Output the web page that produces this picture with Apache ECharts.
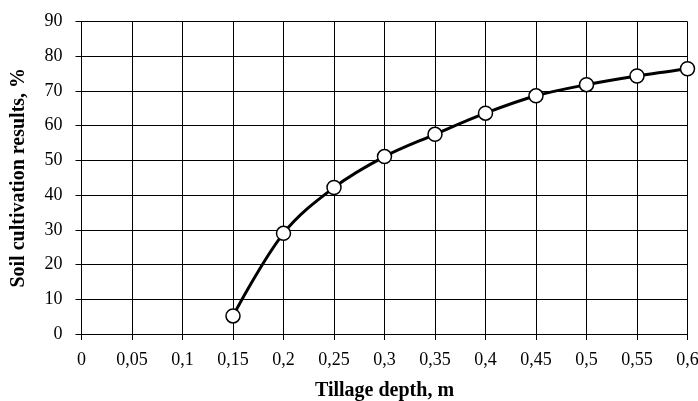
<!DOCTYPE html>
<html><head><meta charset="utf-8">
<script src="https://cdn.jsdelivr.net/npm/echarts@6/dist/echarts.min.js"></script>
<style>html,body{margin:0;padding:0;background:#fff}#c{width:698px;height:401px}</style>
</head><body><div id="c"></div>
<script>
const depths = [0.15, 0.2, 0.25, 0.3, 0.35, 0.4, 0.45, 0.5, 0.55, 0.6];
const results = [5.2, 29.0, 42.2, 51.1, 57.5, 63.6, 68.6, 71.8, 74.3, 76.4];
const xTitle = 'Tillage depth, m';
const yTitle = 'Soil cultivation results, %';

const chart = echarts.init(document.getElementById('c'));
const font = 'Liberation Serif, Times New Roman, serif';
chart.setOption({
  animation: false,
  grid: { left: 81.5, right: 10.5, top: 21.5, bottom: 67, containLabel: false, outerBoundsMode: 'none' },
  xAxis: {
    type: 'value', min: 0, max: 0.6, interval: 0.05,
    name: xTitle, nameLocation: 'middle', nameGap: 47,
    nameTextStyle: { fontFamily: font, fontSize: 20, fontWeight: 'bold', color: '#000' },
    axisLine: { show: true, lineStyle: { color: '#000', width: 1 } },
    axisTick: { show: true, length: 6, lineStyle: { color: '#000' } },
    axisLabel: { fontFamily: font, fontSize: 18, color: '#000', margin: 17,
      formatter: v => String(+v.toFixed(2)).replace('.', ',') },
    splitLine: { show: true, lineStyle: { color: '#000', width: 1 } }
  },
  yAxis: {
    type: 'value', min: 0, max: 90, interval: 10,
    name: yTitle, nameLocation: 'middle', nameGap: 53,
    nameTextStyle: { fontFamily: font, fontSize: 20, fontWeight: 'bold', color: '#000' },
    axisLine: { show: true, lineStyle: { color: '#000', width: 1 } },
    axisTick: { show: true, length: 6, lineStyle: { color: '#000' } },
    axisLabel: { fontFamily: font, fontSize: 18, color: '#000', margin: 19 },
    splitLine: { show: true, lineStyle: { color: '#000', width: 1 } }
  },
  series: [{
    type: 'line',
    data: depths.map((d, i) => [d, results[i]]),
    smooth: 0.35,
    lineStyle: { color: '#000', width: 3 },
    symbol: 'circle', symbolSize: 14,
    itemStyle: { color: '#fff', borderColor: '#000', borderWidth: 1.5 }
  }]
});
</script></body></html>
